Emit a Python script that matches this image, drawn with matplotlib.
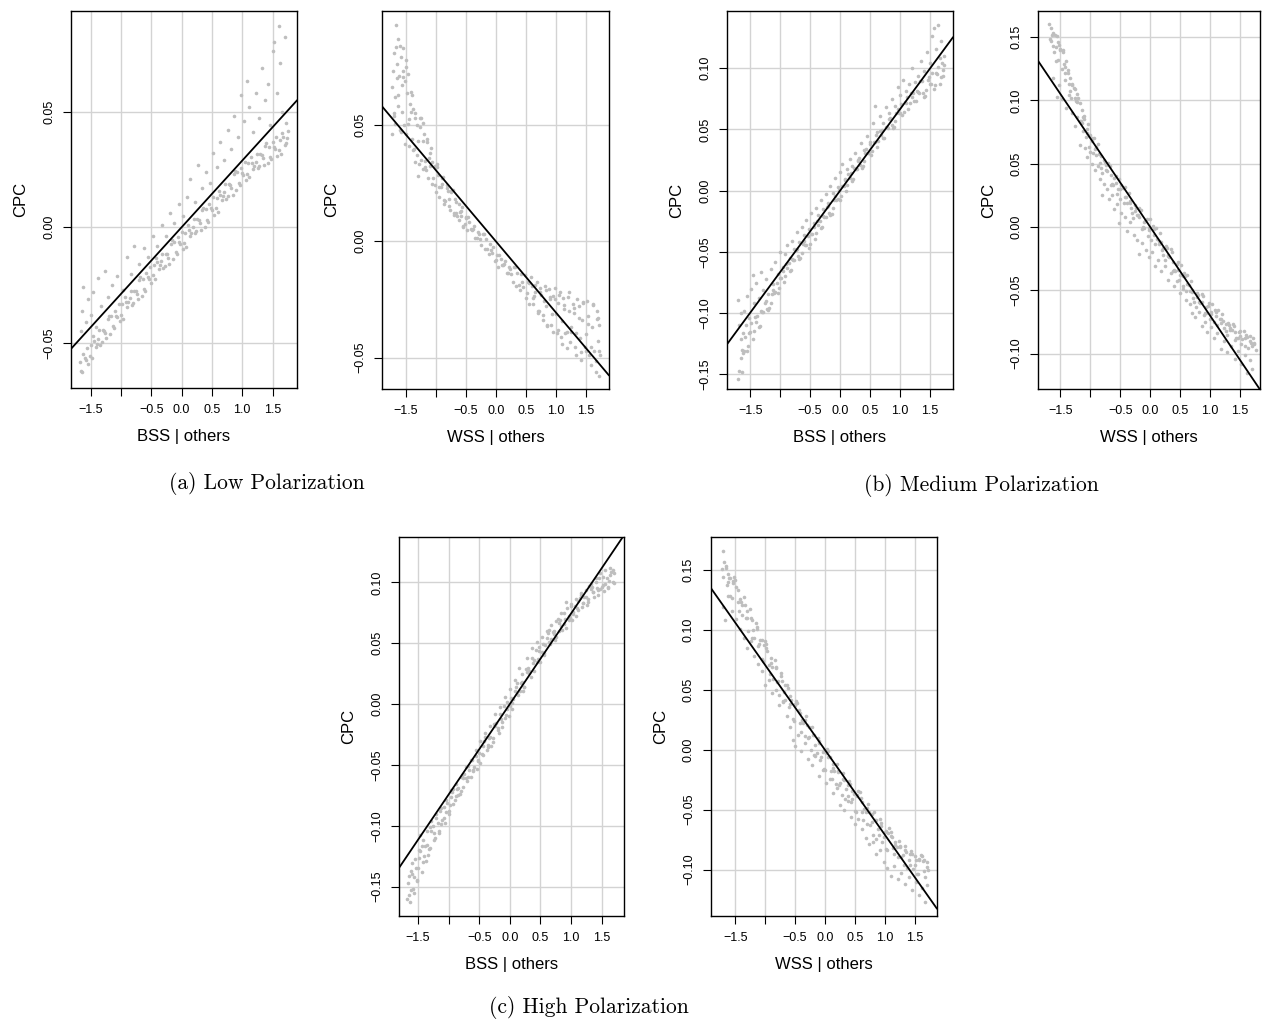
import numpy as np
import matplotlib.pyplot as plt

# partial regression plots, CPC against BSS / WSS (others held fixed)
# points

# (a) low polarization, BSS | others
low_bss = [
    (-1.68, -0.0583), (-1.64, -0.0626), (-1.60, -0.0565), (-1.56, -0.0520), (-1.52, -0.0558), (-1.48, -0.0565),
    (-1.44, -0.0492), (-1.40, -0.0505), (-1.36, -0.0444), (-1.32, -0.0497), (-1.28, -0.0447), (-1.24, -0.0480),
    (-1.20, -0.0385), (-1.16, -0.0383), (-1.12, -0.0436), (-1.08, -0.0385), (-1.04, -0.0330), (-1.00, -0.0378),
    (-0.96, -0.0395), (-0.92, -0.0322), (-0.88, -0.0325), (-0.84, -0.0274), (-0.80, -0.0327), (-0.76, -0.0277),
    (-0.72, -0.0310), (-0.68, -0.0215), (-0.64, -0.0223), (-0.60, -0.0276), (-0.56, -0.0215), (-0.52, -0.0170),
    (-0.48, -0.0208), (-0.44, -0.0225), (-0.40, -0.0152), (-0.36, -0.0165), (-0.32, -0.0114), (-0.28, -0.0167),
    (-0.24, -0.0117), (-0.20, -0.0160), (-0.16, -0.0055), (-0.12, -0.0063), (-0.08, -0.0116), (-0.04, -0.0065),
    (0.00, -0.0020), (0.04, -0.0068), (0.08, -0.0085), (0.12, -0.0012), (0.16, -0.0025), (0.20, 0.0036),
    (0.24, -0.0017), (0.28, 0.0033), (0.32, -0.0010), (0.36, 0.0085), (0.40, 0.0077), (0.44, 0.0024),
    (0.48, 0.0085), (0.52, 0.0130), (0.56, 0.0082), (0.60, 0.0065), (0.64, 0.0138), (0.68, 0.0135),
    (0.72, 0.0186), (0.76, 0.0133), (0.80, 0.0183), (0.84, 0.0140), (0.88, 0.0245), (0.92, 0.0237),
    (0.96, 0.0184), (1.00, 0.0235), (1.04, 0.0280), (1.08, 0.0232), (1.12, 0.0215), (1.16, 0.0278),
    (1.20, 0.0265), (1.24, 0.0316), (1.28, 0.0263), (1.32, 0.0313), (1.36, 0.0270), (1.40, 0.0365),
    (1.44, 0.0347), (1.48, 0.0294), (1.52, 0.0345), (1.56, 0.0390), (1.60, 0.0332), (1.64, 0.0315),
    (1.68, 0.0388), (1.72, 0.0365), (1.76, 0.0416),
    (-1.66, -0.0623), (-1.62, -0.0549), (-1.58, -0.0574), (-1.54, -0.0591), (-1.50, -0.0508), (-1.46, -0.0472),
    (-1.42, -0.0519), (-1.38, -0.0481), (-1.34, -0.0507), (-1.30, -0.0445), (-1.26, -0.0457), (-1.22, -0.0397),
    (-1.18, -0.0463), (-1.14, -0.0428), (-1.10, -0.0364), (-1.06, -0.0389), (-1.02, -0.0406), (-0.98, -0.0333),
    (-0.94, -0.0302), (-0.90, -0.0344), (-0.86, -0.0306), (-0.82, -0.0337), (-0.78, -0.0275), (-0.74, -0.0287),
    (-0.70, -0.0227), (-0.66, -0.0298), (-0.62, -0.0268), (-0.58, -0.0199), (-0.54, -0.0224), (-0.50, -0.0241),
    (-0.46, -0.0163), (-0.42, -0.0132), (-0.38, -0.0179), (-0.34, -0.0146), (-0.30, -0.0177), (-0.26, -0.0115),
    (-0.22, -0.0132), (-0.18, -0.0072), (-0.14, -0.0138), (-0.10, -0.0108), (-0.06, -0.0044), (-0.02, -0.0074),
    (0.02, -0.0096), (0.06, -0.0023), (0.10, 0.0008), (0.14, -0.0039), (0.18, -0.0001), (0.22, -0.0027),
    (0.26, 0.0035), (0.30, 0.0018), (0.34, 0.0073), (0.38, 0.0002), (0.42, 0.0033), (0.46, 0.0102),
    (0.50, 0.0076), (0.54, 0.0055), (0.58, 0.0128), (0.62, 0.0158), (0.66, 0.0117), (0.70, 0.0154),
    (0.74, 0.0124), (0.78, 0.0185), (0.82, 0.0168), (0.86, 0.0228), (0.90, 0.0162), (0.94, 0.0193),
    (0.98, 0.0257), (1.02, 0.0226), (1.06, 0.0205), (1.10, 0.0278), (1.14, 0.0303), (1.18, 0.0252),
    (1.22, 0.0284), (1.26, 0.0254), (1.30, 0.0315), (1.34, 0.0298), (1.38, 0.0353), (1.42, 0.0277),
    (1.46, 0.0303), (1.50, 0.0367), (1.54, 0.0336), (1.58, 0.0310), (1.62, 0.0378), (1.66, 0.0408),
    (1.70, 0.0357), (1.74, 0.0384),
    # sparse upper cloud
    (-1.66, -0.045), (-1.64, -0.036), (-1.62, -0.026), (-1.57, -0.041), (-1.55, -0.031), (-1.50, -0.038),
    (-1.46, -0.028), (-1.41, -0.043), (-1.38, -0.022), (-1.33, -0.034), (-1.27, -0.019), (-1.22, -0.030),
    (-1.15, -0.025), (-1.06, -0.021), (-0.97, -0.027), (-0.90, -0.013), (-0.84, -0.020), (-0.78, -0.008),
    (-0.70, -0.016), (-0.62, -0.009), (-0.55, -0.013), (-0.47, -0.004), (-0.40, -0.008), (-0.33, 0.001),
    (-0.26, -0.004), (-0.19, 0.006), (-0.12, 0.002), (-0.05, 0.010), (0.02, 0.005), (0.09, 0.013),
    (0.14, 0.021), (0.22, 0.011), (0.27, 0.027), (0.33, 0.017), (0.40, 0.024), (0.47, 0.019),
    (0.52, 0.032), (0.58, 0.026), (0.63, 0.037), (0.70, 0.029), (0.76, 0.042), (0.82, 0.034),
    (0.87, 0.048), (0.93, 0.039), (0.98, 0.057), (1.03, 0.046), (1.08, 0.063), (1.12, 0.052),
    (1.18, 0.041), (1.22, 0.058), (1.28, 0.047), (1.33, 0.069), (1.37, 0.055), (1.42, 0.062),
    (1.46, 0.044), (1.50, 0.076), (1.53, 0.080), (1.57, 0.058), (1.60, 0.087), (1.63, 0.071),
    (1.66, 0.050), (1.70, 0.082), (1.73, 0.045),
]

# (a) low polarization, WSS | others
low_wss = [
    (-1.72, 0.0664), (-1.68, 0.0504), (-1.64, 0.0702), (-1.60, 0.0840), (-1.56, 0.0554), (-1.52, 0.0420),
    (-1.48, 0.0638), (-1.44, 0.0524), (-1.40, 0.0630), (-1.36, 0.0396), (-1.32, 0.0499), (-1.28, 0.0332),
    (-1.24, 0.0530), (-1.20, 0.0460), (-1.16, 0.0308), (-1.12, 0.0358), (-1.08, 0.0402), (-1.04, 0.0272),
    (-1.00, 0.0210), (-0.96, 0.0284), (-0.92, 0.0234), (-0.88, 0.0278), (-0.84, 0.0174), (-0.80, 0.0215),
    (-0.76, 0.0135), (-0.72, 0.0220), (-0.68, 0.0180), (-0.64, 0.0108), (-0.60, 0.0124), (-0.56, 0.0146),
    (-0.52, 0.0074), (-0.48, 0.0050), (-0.44, 0.0082), (-0.40, 0.0047), (-0.36, 0.0064), (-0.32, 0.0012),
    (-0.28, 0.0029), (-0.24, -0.0017), (-0.20, 0.0030), (-0.16, 0.0008), (-0.12, -0.0054), (-0.08, -0.0037),
    (-0.04, -0.0023), (0.00, -0.0082), (0.04, -0.0110), (0.08, -0.0078), (0.12, -0.0103), (0.16, -0.0086),
    (0.20, -0.0138), (0.24, -0.0118), (0.28, -0.0176), (0.32, -0.0110), (0.36, -0.0136), (0.40, -0.0210),
    (0.44, -0.0175), (0.48, -0.0145), (0.52, -0.0224), (0.56, -0.0270), (0.60, -0.0192), (0.64, -0.0237),
    (0.68, -0.0176), (0.72, -0.0298), (0.76, -0.0233), (0.80, -0.0256), (0.84, -0.0280), (0.88, -0.0206),
    (0.92, -0.0362), (0.96, -0.0236), (1.00, -0.0314), (1.04, -0.0266), (1.08, -0.0410), (1.12, -0.0244),
    (1.16, -0.0394), (1.20, -0.0238), (1.24, -0.0434), (1.28, -0.0268), (1.32, -0.0456), (1.36, -0.0250),
    (1.40, -0.0416), (1.44, -0.0340), (1.48, -0.0455), (1.52, -0.0255), (1.56, -0.0490), (1.60, -0.0370),
    (1.64, -0.0470), (1.68, -0.0335), (1.72, -0.0470),
    (-1.70, 0.0540), (-1.66, 0.0834), (-1.62, 0.0628), (-1.58, 0.0470), (-1.54, 0.0708), (-1.50, 0.0751),
    (-1.46, 0.0506), (-1.42, 0.0556), (-1.38, 0.0394), (-1.34, 0.0531), (-1.30, 0.0431), (-1.26, 0.0528),
    (-1.22, 0.0310), (-1.18, 0.0343), (-1.14, 0.0425), (-1.10, 0.0324), (-1.06, 0.0248), (-1.02, 0.0325),
    (-0.98, 0.0332), (-0.94, 0.0232), (-0.90, 0.0247), (-0.86, 0.0178), (-0.82, 0.0230), (-0.78, 0.0183),
    (-0.74, 0.0218), (-0.70, 0.0113), (-0.66, 0.0123), (-0.62, 0.0158), (-0.58, 0.0107), (-0.54, 0.0064),
    (-0.50, 0.0103), (-0.46, 0.0104), (-0.42, 0.0051), (-0.38, 0.0051), (-0.34, 0.0014), (-0.30, 0.0039),
    (-0.26, 0.0011), (-0.22, 0.0031), (-0.18, -0.0034), (-0.14, -0.0035), (-0.10, -0.0014), (-0.06, -0.0051),
    (-0.02, -0.0087), (0.02, -0.0060), (0.06, -0.0057), (0.10, -0.0104), (0.14, -0.0099), (0.18, -0.0136),
    (0.22, -0.0109), (0.26, -0.0141), (0.30, -0.0111), (0.34, -0.0193), (0.38, -0.0188), (0.42, -0.0140),
    (0.46, -0.0195), (0.50, -0.0245), (0.54, -0.0175), (0.58, -0.0153), (0.62, -0.0246), (0.66, -0.0220),
    (0.70, -0.0301), (0.74, -0.0217), (0.78, -0.0316), (0.82, -0.0191), (0.86, -0.0363), (0.90, -0.0250),
    (0.94, -0.0312), (0.98, -0.0248), (1.02, -0.0396), (1.06, -0.0230), (1.10, -0.0342), (1.14, -0.0272),
    (1.18, -0.0392), (1.22, -0.0298), (1.26, -0.0392), (1.30, -0.0286), (1.34, -0.0396), (1.38, -0.0328),
    (1.42, -0.0475), (1.46, -0.0265), (1.50, -0.0470), (1.54, -0.0355), (1.58, -0.0455), (1.62, -0.0273),
    (1.66, -0.0515), (1.70, -0.0330),
    (-1.73, 0.046), (-1.71, 0.073), (-1.70, 0.055), (-1.69, 0.081), (-1.67, 0.062), (-1.66, 0.093),
    (-1.65, 0.076), (-1.63, 0.058), (-1.62, 0.087), (-1.61, 0.071), (-1.59, 0.048), (-1.58, 0.079),
    (-1.57, 0.067), (-1.55, 0.083), (-1.54, 0.073), (-1.53, 0.050), (-1.51, 0.069), (-1.50, 0.078),
    (-1.49, 0.046), (-1.46, 0.072), (-1.45, 0.041), (-1.43, 0.059), (-1.42, 0.064), (-1.39, 0.044),
    (-1.38, 0.057), (-1.35, 0.034), (-1.34, 0.055), (-1.31, 0.037), (-1.30, 0.028), (-1.27, 0.049),
    (-1.25, 0.035), (-1.22, 0.051), (-1.21, 0.043), (-1.18, 0.032), (-1.15, 0.044), (-1.13, 0.027),
    (-1.10, 0.038), (-1.06, 0.034), (-1.02, 0.024), (-0.98, 0.032), (-0.94, 0.019), (-0.90, 0.027),
    (-0.86, 0.016), (-0.82, 0.024), (-0.78, 0.015), (-0.74, 0.021), (-0.70, 0.012), (-0.66, 0.017),
    (-0.62, 0.009), (-0.58, 0.013), (-0.54, 0.006), (-0.50, 0.010),
    (0.55, -0.018), (0.62, -0.027), (0.66, -0.019), (0.70, -0.031), (0.74, -0.020), (0.78, -0.034),
    (0.83, -0.021), (0.86, -0.036), (0.90, -0.024), (0.95, -0.039), (0.99, -0.020), (1.03, -0.038),
    (1.07, -0.022), (1.10, -0.044), (1.14, -0.029), (1.18, -0.046), (1.22, -0.022), (1.26, -0.037),
    (1.30, -0.031), (1.34, -0.049), (1.38, -0.028), (1.42, -0.051), (1.46, -0.026), (1.50, -0.040),
    (1.54, -0.032), (1.58, -0.053), (1.62, -0.027), (1.66, -0.056), (1.69, -0.030), (1.70, -0.043),
    (1.71, -0.058), (1.72, -0.036), (1.73, -0.049),
]

# (b) medium polarization, BSS | others
med_bss = [
    (-1.70, -0.1540), (-1.66, -0.1368), (-1.62, -0.1328), (-1.58, -0.1196), (-1.54, -0.1268), (-1.50, -0.1156),
    (-1.46, -0.1212), (-1.42, -0.1030), (-1.38, -0.1022), (-1.34, -0.1104), (-1.30, -0.0994), (-1.26, -0.0916),
    (-1.22, -0.0964), (-1.18, -0.0960), (-1.14, -0.0846), (-1.10, -0.0836), (-1.06, -0.0752), (-1.02, -0.0796),
    (-0.98, -0.0712), (-0.94, -0.0744), (-0.90, -0.0600), (-0.86, -0.0594), (-0.82, -0.0648), (-0.78, -0.0564),
    (-0.74, -0.0486), (-0.70, -0.0534), (-0.66, -0.0550), (-0.62, -0.0436), (-0.58, -0.0446), (-0.54, -0.0372),
    (-0.50, -0.0436), (-0.46, -0.0352), (-0.42, -0.0394), (-0.38, -0.0250), (-0.34, -0.0244), (-0.30, -0.0298),
    (-0.26, -0.0214), (-0.22, -0.0136), (-0.18, -0.0184), (-0.14, -0.0190), (-0.10, -0.0076), (-0.06, -0.0076),
    (-0.02, 0.0008), (0.02, -0.0046), (0.06, 0.0038), (0.10, -0.0004), (0.14, 0.0140), (0.18, 0.0146),
    (0.22, 0.0092), (0.26, 0.0176), (0.30, 0.0254), (0.34, 0.0206), (0.38, 0.0200), (0.42, 0.0304),
    (0.46, 0.0304), (0.50, 0.0378), (0.54, 0.0324), (0.58, 0.0398), (0.62, 0.0356), (0.66, 0.0490),
    (0.70, 0.0496), (0.74, 0.0432), (0.78, 0.0516), (0.82, 0.0584), (0.86, 0.0536), (0.90, 0.0520),
    (0.94, 0.0634), (0.98, 0.0634), (1.02, 0.0708), (1.06, 0.0644), (1.10, 0.0718), (1.14, 0.0666),
    (1.18, 0.0800), (1.22, 0.0796), (1.26, 0.0732), (1.30, 0.0806), (1.34, 0.0892), (1.38, 0.0798),
    (1.42, 0.0770), (1.46, 0.0902), (1.50, 0.0872), (1.54, 0.0964), (1.58, 0.0862), (1.62, 0.0954),
    (1.66, 0.0868), (1.70, 0.1040), (1.74, 0.1028),
    (-1.68, -0.1470), (-1.64, -0.1304), (-1.60, -0.1306), (-1.56, -0.1312), (-1.52, -0.1160), (-1.48, -0.1084),
    (-1.44, -0.1149), (-1.40, -0.1074), (-1.36, -0.1111), (-1.32, -0.0984), (-1.28, -0.0994), (-1.24, -0.0904),
    (-1.20, -0.0977), (-1.16, -0.0915), (-1.12, -0.0808), (-1.08, -0.0827), (-1.04, -0.0834), (-1.00, -0.0715),
    (-0.96, -0.0653), (-0.92, -0.0693), (-0.88, -0.0633), (-0.84, -0.0657), (-0.80, -0.0558), (-0.76, -0.0564),
    (-0.72, -0.0474), (-0.68, -0.0557), (-0.64, -0.0505), (-0.60, -0.0408), (-0.56, -0.0442), (-0.52, -0.0464),
    (-0.48, -0.0355), (-0.44, -0.0298), (-0.40, -0.0343), (-0.36, -0.0283), (-0.32, -0.0307), (-0.28, -0.0208),
    (-0.24, -0.0214), (-0.20, -0.0124), (-0.16, -0.0202), (-0.12, -0.0145), (-0.08, -0.0043), (-0.04, -0.0067),
    (0.00, -0.0079), (0.04, 0.0035), (0.08, 0.0092), (0.12, 0.0047), (0.16, 0.0107), (0.20, 0.0083),
    (0.24, 0.0182), (0.28, 0.0176), (0.32, 0.0266), (0.36, 0.0188), (0.40, 0.0240), (0.44, 0.0337),
    (0.48, 0.0308), (0.52, 0.0291), (0.56, 0.0400), (0.60, 0.0452), (0.64, 0.0402), (0.68, 0.0457),
    (0.72, 0.0428), (0.76, 0.0522), (0.80, 0.0511), (0.84, 0.0596), (0.88, 0.0513), (0.92, 0.0565),
    (0.96, 0.0667), (1.00, 0.0638), (1.04, 0.0616), (1.08, 0.0720), (1.12, 0.0767), (1.16, 0.0712),
    (1.20, 0.0762), (1.24, 0.0728), (1.28, 0.0817), (1.32, 0.0798), (1.36, 0.0893), (1.40, 0.0764),
    (1.44, 0.0820), (1.48, 0.0931), (1.52, 0.0874), (1.56, 0.0833), (1.60, 0.0960), (1.64, 0.1011),
    (1.68, 0.0926), (1.72, 0.0986),
    (-1.70, -0.089), (-1.68, -0.110), (-1.66, -0.100), (-1.65, -0.121), (-1.64, -0.148), (-1.62, -0.116),
    (-1.60, -0.098), (-1.57, -0.110), (-1.55, -0.086), (-1.52, -0.104), (-1.49, -0.080), (-1.46, -0.069),
    (-1.43, -0.092), (-1.40, -0.075), (-1.36, -0.088), (-1.32, -0.066), (-1.28, -0.081), (-1.24, -0.072),
    (-1.20, -0.084), (-1.16, -0.064), (-1.12, -0.076), (-1.08, -0.058), (-1.04, -0.068), (-1.00, -0.050),
    (-0.96, -0.062), (-0.92, -0.052), (-0.88, -0.044), (-0.84, -0.055), (-0.80, -0.041), (-0.76, -0.048),
    (-0.72, -0.034), (-0.68, -0.042), (-0.64, -0.030), (-0.60, -0.036), (-0.56, -0.024), (-0.52, -0.031),
    (-0.48, -0.018), (-0.44, -0.026), (-0.40, -0.014), (-0.36, -0.020), (-0.32, -0.008), (-0.28, -0.015),
    (-0.24, -0.003), (-0.20, -0.010), (-0.16, 0.004), (-0.12, -0.002), (-0.08, 0.010), (-0.04, 0.003),
    (0.00, 0.015), (0.04, 0.022), (0.08, 0.009), (0.12, 0.018), (0.16, 0.026), (0.20, 0.020),
    (0.25, 0.031), (0.30, 0.024), (0.35, 0.039), (0.40, 0.033), (0.45, 0.045), (0.50, 0.040),
    (0.55, 0.055), (0.58, 0.069), (0.62, 0.048), (0.67, 0.061), (0.72, 0.055), (0.77, 0.068),
    (0.82, 0.063), (0.86, 0.075), (0.91, 0.069), (0.96, 0.085), (1.00, 0.078), (1.05, 0.090),
    (1.10, 0.081), (1.15, 0.087), (1.20, 0.100), (1.25, 0.089), (1.30, 0.094), (1.35, 0.106),
    (1.40, 0.098), (1.45, 0.113), (1.50, 0.104), (1.54, 0.126), (1.57, 0.133), (1.60, 0.116),
    (1.63, 0.135), (1.66, 0.108), (1.68, 0.122), (1.71, 0.094), (1.73, 0.110),
]

# (b) medium polarization, WSS | others
med_wss = [
    (-1.68, 0.1482), (-1.64, 0.1514), (-1.60, 0.1379), (-1.56, 0.1510), (-1.52, 0.1440), (-1.48, 0.1250),
    (-1.44, 0.1290), (-1.40, 0.1310), (-1.36, 0.1130), (-1.32, 0.1020), (-1.28, 0.1096), (-1.24, 0.0991),
    (-1.20, 0.1022), (-1.16, 0.0836), (-1.12, 0.0867), (-1.08, 0.0709), (-1.04, 0.0810), (-1.00, 0.0728),
    (-0.96, 0.0586), (-0.92, 0.0618), (-0.88, 0.0652), (-0.84, 0.0508), (-0.80, 0.0430), (-0.76, 0.0512),
    (-0.72, 0.0442), (-0.68, 0.0484), (-0.64, 0.0342), (-0.60, 0.0384), (-0.56, 0.0258), (-0.52, 0.0380),
    (-0.48, 0.0328), (-0.44, 0.0186), (-0.40, 0.0238), (-0.36, 0.0272), (-0.32, 0.0148), (-0.28, 0.0070),
    (-0.24, 0.0152), (-0.20, 0.0092), (-0.16, 0.0134), (-0.12, 0.0002), (-0.08, 0.0044), (-0.04, -0.0072),
    (0.00, 0.0060), (0.04, 0.0008), (0.08, -0.0134), (0.12, -0.0092), (0.16, -0.0048), (0.20, -0.0182),
    (0.24, -0.0260), (0.28, -0.0168), (0.32, -0.0238), (0.36, -0.0196), (0.40, -0.0338), (0.44, -0.0296),
    (0.48, -0.0422), (0.52, -0.0300), (0.56, -0.0362), (0.60, -0.0504), (0.64, -0.0462), (0.68, -0.0428),
    (0.72, -0.0562), (0.76, -0.0630), (0.80, -0.0538), (0.84, -0.0598), (0.88, -0.0546), (0.92, -0.0678),
    (0.96, -0.0626), (1.00, -0.0723), (1.04, -0.0610), (1.08, -0.0658), (1.12, -0.0776), (1.16, -0.0723),
    (1.20, -0.0687), (1.24, -0.0798), (1.28, -0.0850), (1.32, -0.0772), (1.36, -0.0817), (1.40, -0.0782),
    (1.44, -0.0876), (1.48, -0.0832), (1.52, -0.0924), (1.56, -0.0820), (1.60, -0.0854), (1.64, -0.0958),
    (1.68, -0.0914), (1.72, -0.0876), (1.76, -0.0974),
    (-1.66, 0.1470), (-1.62, 0.1535), (-1.58, 0.1422), (-1.54, 0.1315), (-1.50, 0.1405), (-1.46, 0.1400),
    (-1.42, 0.1220), (-1.38, 0.1215), (-1.34, 0.1074), (-1.30, 0.1126), (-1.26, 0.1016), (-1.22, 0.1052),
    (-1.18, 0.0835), (-1.14, 0.0820), (-1.10, 0.0878), (-1.06, 0.0743), (-1.02, 0.0633), (-0.98, 0.0705),
    (-0.94, 0.0706), (-0.90, 0.0571), (-0.86, 0.0576), (-0.82, 0.0469), (-0.78, 0.0531), (-0.74, 0.0453),
    (-0.70, 0.0503), (-0.66, 0.0329), (-0.62, 0.0335), (-0.58, 0.0401), (-0.54, 0.0299), (-0.50, 0.0218),
    (-0.46, 0.0305), (-0.42, 0.0316), (-0.38, 0.0191), (-0.34, 0.0206), (-0.30, 0.0109), (-0.26, 0.0171),
    (-0.22, 0.0098), (-0.18, 0.0153), (-0.14, -0.0016), (-0.10, -0.0005), (-0.06, 0.0066), (-0.02, -0.0026),
    (0.02, -0.0102), (0.06, -0.0015), (0.10, -0.0009), (0.14, -0.0134), (0.18, -0.0119), (0.22, -0.0221),
    (0.26, -0.0154), (0.30, -0.0227), (0.34, -0.0177), (0.38, -0.0351), (0.42, -0.0345), (0.46, -0.0279),
    (0.50, -0.0381), (0.54, -0.0467), (0.58, -0.0385), (0.62, -0.0379), (0.66, -0.0509), (0.70, -0.0499),
    (0.74, -0.0596), (0.78, -0.0524), (0.82, -0.0592), (0.86, -0.0532), (0.90, -0.0696), (0.94, -0.0680),
    (0.98, -0.0603), (1.02, -0.0684), (1.06, -0.0753), (1.10, -0.0675), (1.14, -0.0659), (1.18, -0.0761),
    (1.22, -0.0746), (1.26, -0.0824), (1.30, -0.0759), (1.34, -0.0816), (1.38, -0.0765), (1.42, -0.0892),
    (1.46, -0.0875), (1.50, -0.0818), (1.54, -0.0887), (1.58, -0.0939), (1.62, -0.0870), (1.66, -0.0858),
    (1.70, -0.0943), (1.74, -0.0928),
    (-1.62, 0.118), (-1.58, 0.131), (-1.55, 0.103), (-1.52, 0.112), (-1.47, 0.101), (-1.43, 0.116),
    (-1.40, 0.094), (-1.35, 0.104), (-1.30, 0.090), (-1.26, 0.080), (-1.22, 0.087), (-1.18, 0.065),
    (-1.13, 0.076), (-1.09, 0.062), (-1.05, 0.055), (-1.01, 0.059), (-0.97, 0.050), (-0.93, 0.045),
    (-0.88, 0.048), (-0.84, 0.038), (-0.80, 0.025), (-0.78, 0.034), (-0.73, 0.030), (-0.69, 0.022),
    (-0.64, 0.025), (-0.60, 0.014), (-0.55, 0.018), (-0.52, 0.003), (-0.48, 0.011), (-0.42, 0.008),
    (-0.38, -0.003), (-0.34, 0.004), (-0.27, -0.006), (-0.22, -0.010), (-0.18, -0.021), (-0.13, -0.013),
    (-0.07, -0.018), (-0.02, -0.024), (0.03, -0.020), (0.08, -0.031), (0.13, -0.026), (0.18, -0.035),
    (0.24, -0.031), (0.29, -0.042), (0.34, -0.036), (0.39, -0.047), (0.44, -0.043), (0.49, -0.052),
    (0.55, -0.049), (0.60, -0.058), (0.66, -0.061), (0.70, -0.068), (0.75, -0.071), (0.81, -0.067),
    (0.86, -0.078), (0.91, -0.075), (0.95, -0.083), (1.01, -0.079), (1.06, -0.088), (1.12, -0.084),
    (1.18, -0.096), (1.23, -0.090), (1.29, -0.099), (1.35, -0.094), (1.41, -0.104), (1.47, -0.098),
    (1.52, -0.108), (1.58, -0.101), (1.62, -0.115), (1.66, -0.105), (1.70, -0.112),
    (-1.69, 0.160), (-1.66, 0.157), (-1.63, 0.143), (-1.59, 0.152), (-1.54, 0.146), (-1.50, 0.140),
    (-1.46, 0.138), (-1.42, 0.126), (-1.38, 0.124), (-1.34, 0.118), (-1.30, 0.112), (-1.26, 0.109),
    (-1.22, 0.099), (-1.18, 0.098), (-1.14, 0.092), (-1.10, 0.085), (-1.06, 0.077), (-1.02, 0.072),
    (-0.98, 0.068), (-0.90, 0.063), (-0.82, 0.056), (-0.74, 0.049), (-0.66, 0.041), (-0.58, 0.035),
    (-0.50, 0.030), (-0.42, 0.024), (-0.34, 0.019), (-0.26, 0.013), (-0.18, 0.008), (-0.10, 0.004),
    (-0.02, -0.001), (0.06, -0.006), (0.14, -0.011), (0.22, -0.017), (0.30, -0.022), (0.38, -0.028),
    (0.46, -0.034), (0.54, -0.039), (0.62, -0.045), (0.70, -0.051), (0.78, -0.055), (0.86, -0.059),
    (0.94, -0.063), (1.02, -0.067), (1.10, -0.070), (1.18, -0.073), (1.26, -0.077), (1.34, -0.080),
    (1.42, -0.083), (1.50, -0.086), (1.58, -0.088), (1.66, -0.090), (1.73, -0.092),
]

# (c) high polarization, BSS | others
high_bss = [
    (-1.66, -0.1469), (-1.62, -0.1526), (-1.58, -0.1520), (-1.54, -0.1344), (-1.50, -0.1350), (-1.46, -0.1210),
    (-1.42, -0.1300), (-1.38, -0.1170), (-1.34, -0.1240), (-1.30, -0.1010), (-1.26, -0.1006), (-1.22, -0.1102),
    (-1.18, -0.0981), (-1.14, -0.0879), (-1.10, -0.0956), (-1.06, -0.0980), (-1.02, -0.0814), (-0.98, -0.0827),
    (-0.94, -0.0724), (-0.90, -0.0792), (-0.86, -0.0699), (-0.82, -0.0743), (-0.78, -0.0580), (-0.74, -0.0578),
    (-0.70, -0.0636), (-0.66, -0.0543), (-0.62, -0.0457), (-0.58, -0.0518), (-0.54, -0.0530), (-0.50, -0.0398),
    (-0.46, -0.0408), (-0.42, -0.0306), (-0.38, -0.0378), (-0.34, -0.0276), (-0.30, -0.0342), (-0.26, -0.0160),
    (-0.22, -0.0152), (-0.18, -0.0234), (-0.14, -0.0122), (-0.10, -0.0018), (-0.06, -0.0092), (-0.02, -0.0100),
    (0.02, 0.0052), (0.06, 0.0042), (0.10, 0.0144), (0.14, 0.0072), (0.18, 0.0174), (0.22, 0.0108),
    (0.26, 0.0290), (0.30, 0.0298), (0.34, 0.0226), (0.38, 0.0338), (0.42, 0.0442), (0.46, 0.0368),
    (0.50, 0.0350), (0.54, 0.0492), (0.58, 0.0482), (0.62, 0.0584), (0.66, 0.0492), (0.70, 0.0594),
    (0.74, 0.0528), (0.78, 0.0700), (0.82, 0.0688), (0.86, 0.0606), (0.90, 0.0698), (0.94, 0.0792),
    (0.98, 0.0708), (1.02, 0.0690), (1.06, 0.0808), (1.10, 0.0793), (1.14, 0.0876), (1.18, 0.0798),
    (1.22, 0.0881), (1.26, 0.0817), (1.30, 0.0970), (1.34, 0.0962), (1.38, 0.0884), (1.42, 0.0957),
    (1.46, 0.1033), (1.50, 0.0962), (1.54, 0.0930), (1.58, 0.1038), (1.62, 0.1013), (1.66, 0.1086),
    (1.70, 0.0998),
    (-1.64, -0.1565), (-1.60, -0.1397), (-1.56, -0.1423), (-1.52, -0.1446), (-1.48, -0.1265), (-1.44, -0.1170),
    (-1.40, -0.1250), (-1.36, -0.1155), (-1.32, -0.1192), (-1.28, -0.1040), (-1.24, -0.1059), (-1.20, -0.0934),
    (-1.16, -0.1061), (-1.12, -0.0985), (-1.08, -0.0842), (-1.04, -0.0886), (-1.00, -0.0903), (-0.96, -0.0765),
    (-0.92, -0.0699), (-0.88, -0.0756), (-0.84, -0.0686), (-0.80, -0.0714), (-0.76, -0.0604), (-0.72, -0.0611),
    (-0.68, -0.0506), (-0.64, -0.0602), (-0.60, -0.0540), (-0.56, -0.0426), (-0.52, -0.0461), (-0.48, -0.0487),
    (-0.44, -0.0345), (-0.40, -0.0274), (-0.36, -0.0339), (-0.32, -0.0269), (-0.28, -0.0311), (-0.24, -0.0184),
    (-0.20, -0.0197), (-0.16, -0.0082), (-0.12, -0.0186), (-0.08, -0.0115), (-0.04, 0.0016), (0.00, -0.0016),
    (0.04, -0.0037), (0.08, 0.0105), (0.12, 0.0176), (0.16, 0.0111), (0.20, 0.0181), (0.24, 0.0139),
    (0.28, 0.0266), (0.32, 0.0258), (0.36, 0.0378), (0.40, 0.0274), (0.44, 0.0345), (0.48, 0.0471),
    (0.52, 0.0429), (0.56, 0.0403), (0.60, 0.0545), (0.64, 0.0606), (0.68, 0.0531), (0.72, 0.0601),
    (0.76, 0.0554), (0.80, 0.0666), (0.84, 0.0643), (0.88, 0.0748), (0.92, 0.0629), (0.96, 0.0690),
    (1.00, 0.0803), (1.04, 0.0756), (1.08, 0.0727), (1.12, 0.0845), (1.16, 0.0897), (1.20, 0.0829),
    (1.24, 0.0884), (1.28, 0.0841), (1.32, 0.0942), (1.36, 0.0920), (1.40, 0.1005), (1.44, 0.0894),
    (1.48, 0.0945), (1.52, 0.1044), (1.56, 0.0991), (1.60, 0.0952), (1.64, 0.1060), (1.68, 0.1102),
    (-1.68, -0.160), (-1.65, -0.141), (-1.63, -0.163), (-1.61, -0.137), (-1.60, -0.131), (-1.57, -0.155),
    (-1.55, -0.127), (-1.52, -0.145), (-1.49, -0.120), (-1.47, -0.108), (-1.44, -0.138), (-1.41, -0.112),
    (-1.37, -0.129), (-1.35, -0.104), (-1.31, -0.118), (-1.28, -0.096), (-1.24, -0.112), (-1.20, -0.090),
    (-1.16, -0.104), (-1.12, -0.085), (-1.08, -0.094), (-1.04, -0.079), (-1.00, -0.088), (-0.96, -0.071),
    (-0.92, -0.082), (-0.88, -0.066), (-0.84, -0.075), (-0.80, -0.060), (-0.76, -0.068), (-0.72, -0.052),
    (-0.68, -0.060), (-0.64, -0.046), (-0.60, -0.055), (-0.56, -0.038), (-0.52, -0.047), (-0.48, -0.030),
    (-0.44, -0.042), (-0.40, -0.024), (-0.36, -0.035), (-0.32, -0.018), (-0.28, -0.028), (-0.24, -0.008),
    (-0.20, -0.021), (-0.16, -0.002), (-0.12, -0.015), (-0.08, 0.006), (-0.04, -0.004), (0.00, 0.012),
    (0.04, 0.001), (0.08, 0.020), (0.12, 0.008), (0.15, 0.030), (0.20, 0.025), (0.24, 0.014),
    (0.28, 0.038), (0.32, 0.027), (0.36, 0.046), (0.40, 0.036), (0.44, 0.051), (0.48, 0.044),
    (0.52, 0.055), (0.56, 0.042), (0.60, 0.060), (0.64, 0.051), (0.68, 0.065), (0.72, 0.058),
    (0.76, 0.068), (0.80, 0.060), (0.84, 0.075), (0.88, 0.066), (0.92, 0.084), (0.96, 0.072),
    (1.00, 0.082), (1.04, 0.074), (1.08, 0.086), (1.12, 0.077), (1.16, 0.091), (1.20, 0.083),
    (1.24, 0.094), (1.28, 0.086), (1.32, 0.099), (1.36, 0.092), (1.40, 0.104), (1.44, 0.094),
    (1.48, 0.108), (1.52, 0.098), (1.56, 0.110), (1.60, 0.096), (1.64, 0.112), (1.68, 0.100),
    (1.70, 0.108),
]

# (c) high polarization, WSS | others
high_wss = [
    (-1.72, 0.1509), (-1.68, 0.1568), (-1.64, 0.1374), (-1.60, 0.1433), (-1.56, 0.1271), (-1.52, 0.1440),
    (-1.48, 0.1356), (-1.44, 0.1162), (-1.40, 0.1231), (-1.36, 0.1279), (-1.32, 0.1096), (-1.28, 0.0990),
    (-1.24, 0.1104), (-1.20, 0.0999), (-1.16, 0.1058), (-1.12, 0.0864), (-1.08, 0.0913), (-1.04, 0.0741),
    (-1.00, 0.0910), (-0.96, 0.0826), (-0.92, 0.0632), (-0.88, 0.0691), (-0.84, 0.0749), (-0.80, 0.0566),
    (-0.76, 0.0460), (-0.72, 0.0574), (-0.68, 0.0479), (-0.64, 0.0538), (-0.60, 0.0354), (-0.56, 0.0413),
    (-0.52, 0.0241), (-0.48, 0.0410), (-0.44, 0.0336), (-0.40, 0.0152), (-0.36, 0.0221), (-0.32, 0.0279),
    (-0.28, 0.0096), (-0.24, 0.0000), (-0.20, 0.0124), (-0.16, 0.0039), (-0.12, 0.0098), (-0.08, -0.0086),
    (-0.04, -0.0017), (0.00, -0.0169), (0.04, 0.0010), (0.08, -0.0064), (0.12, -0.0248), (0.16, -0.0179),
    (0.20, -0.0121), (0.24, -0.0294), (0.28, -0.0380), (0.32, -0.0256), (0.36, -0.0331), (0.40, -0.0262),
    (0.44, -0.0436), (0.48, -0.0367), (0.52, -0.0519), (0.56, -0.0340), (0.60, -0.0404), (0.64, -0.0588),
    (0.68, -0.0519), (0.72, -0.0451), (0.76, -0.0624), (0.80, -0.0710), (0.84, -0.0586), (0.88, -0.0661),
    (0.92, -0.0582), (0.96, -0.0766), (1.00, -0.0687), (1.04, -0.0839), (1.08, -0.0650), (1.12, -0.0726),
    (1.16, -0.0872), (1.20, -0.0811), (1.24, -0.0759), (1.28, -0.0896), (1.32, -0.0960), (1.36, -0.0854),
    (1.40, -0.0919), (1.44, -0.0848), (1.48, -0.0994), (1.52, -0.0923), (1.56, -0.1041), (1.60, -0.0880),
    (1.64, -0.0926), (1.68, -0.1062), (1.72, -0.1001),
    (-1.70, 0.1445), (-1.66, 0.1537), (-1.62, 0.1398), (-1.58, 0.1286), (-1.54, 0.1405), (-1.50, 0.1415),
    (-1.46, 0.1237), (-1.42, 0.1257), (-1.38, 0.1123), (-1.34, 0.1210), (-1.30, 0.1104), (-1.26, 0.1174),
    (-1.22, 0.0931), (-1.18, 0.0935), (-1.14, 0.1027), (-1.10, 0.0883), (-1.06, 0.0761), (-1.02, 0.0875),
    (-0.98, 0.0885), (-0.94, 0.0707), (-0.90, 0.0722), (-0.86, 0.0588), (-0.82, 0.0680), (-0.78, 0.0574),
    (-0.74, 0.0644), (-0.70, 0.0406), (-0.66, 0.0415), (-0.62, 0.0512), (-0.58, 0.0378), (-0.54, 0.0261),
    (-0.50, 0.0375), (-0.46, 0.0390), (-0.42, 0.0222), (-0.38, 0.0247), (-0.34, 0.0118), (-0.30, 0.0210),
    (-0.26, 0.0109), (-0.22, 0.0189), (-0.18, -0.0040), (-0.14, -0.0025), (-0.10, 0.0072), (-0.06, -0.0057),
    (-0.02, -0.0159), (0.02, -0.0030), (0.06, -0.0011), (0.10, -0.0178), (0.14, -0.0153), (0.18, -0.0282),
    (0.22, -0.0186), (0.26, -0.0277), (0.30, -0.0192), (0.34, -0.0415), (0.38, -0.0390), (0.42, -0.0283),
    (0.46, -0.0407), (0.50, -0.0509), (0.54, -0.0380), (0.58, -0.0356), (0.62, -0.0518), (0.66, -0.0493),
    (0.70, -0.0617), (0.74, -0.0516), (0.78, -0.0607), (0.82, -0.0522), (0.86, -0.0745), (0.90, -0.0715),
    (0.94, -0.0608), (0.98, -0.0732), (1.02, -0.0829), (1.06, -0.0695), (1.10, -0.0685), (1.14, -0.0817),
    (1.18, -0.0792), (1.22, -0.0893), (1.26, -0.0810), (1.30, -0.0879), (1.34, -0.0804), (1.38, -0.0986),
    (1.42, -0.0960), (1.46, -0.0867), (1.50, -0.0963), (1.54, -0.1036), (1.58, -0.0920), (1.62, -0.0890),
    (1.66, -0.1012), (1.70, -0.0982),
    (-1.70, 0.166), (-1.66, 0.152), (-1.62, 0.147), (-1.58, 0.143), (-1.54, 0.139), (-1.46, 0.133),
    (-1.38, 0.121), (-1.30, 0.116), (-1.22, 0.108), (-1.14, 0.101), (-1.06, 0.092), (-0.98, 0.085),
    (-0.90, 0.077), (-0.82, 0.069), (-0.74, 0.062), (-0.66, 0.054), (-0.58, 0.045), (-0.50, 0.038),
    (-0.42, 0.031), (-0.34, 0.025), (-0.26, 0.019), (-0.18, 0.012), (-0.10, 0.006), (-0.02, 0.000),
    (0.06, -0.006), (0.14, -0.012), (0.22, -0.018), (0.30, -0.024), (0.38, -0.029), (0.46, -0.034),
    (0.54, -0.039), (0.62, -0.044), (0.70, -0.049), (0.78, -0.054), (0.86, -0.059), (0.94, -0.064),
    (1.02, -0.068), (1.10, -0.072), (1.18, -0.077), (1.26, -0.080), (1.34, -0.084), (1.42, -0.087),
    (1.50, -0.089), (1.58, -0.091), (1.66, -0.092), (1.71, -0.094),
    (-1.70, 0.119), (-1.67, 0.108), (-1.62, 0.128), (-1.55, 0.116), (-1.49, 0.109), (-1.42, 0.101),
    (-1.36, 0.093), (-1.30, 0.085), (-1.24, 0.091), (-1.18, 0.078), (-1.12, 0.072), (-1.06, 0.066),
    (-1.00, 0.054), (-0.94, 0.058), (-0.88, 0.047), (-0.82, 0.050), (-0.76, 0.037), (-0.70, 0.040),
    (-0.64, 0.028), (-0.58, 0.019), (-0.54, 0.008), (-0.50, 0.003), (-0.45, 0.012), (-0.40, -0.001),
    (-0.34, 0.006), (-0.28, -0.008), (-0.22, -0.013), (-0.16, -0.005), (-0.10, -0.022), (-0.04, -0.017),
    (0.02, -0.028), (0.08, -0.024), (0.14, -0.036), (0.20, -0.032), (0.26, -0.046), (0.32, -0.050),
    (0.38, -0.043), (0.44, -0.056), (0.50, -0.062), (0.56, -0.058), (0.62, -0.066), (0.68, -0.074),
    (0.74, -0.079), (0.80, -0.077), (0.86, -0.087), (0.92, -0.084), (0.98, -0.094), (1.04, -0.099),
    (1.10, -0.105), (1.16, -0.097), (1.22, -0.108), (1.28, -0.103), (1.34, -0.112), (1.40, -0.106),
    (1.46, -0.117), (1.52, -0.110), (1.58, -0.121), (1.63, -0.115), (1.67, -0.127), (1.70, -0.113),
]

# fitted slopes (lines pass through the origin)
slopes = [0.0288, -0.0306, 0.0665, -0.0700, 0.0744, -0.0708]
x_labels = ["BSS | others", "WSS | others"] * 3
x_ticks = [-1.5, -1.0, -0.5, 0.0, 0.5, 1.0, 1.5]
x_tick_labels = ["\u22121.5", "", "\u22120.5", "0.0", "0.5", "1.0", "1.5"]
y_ticks = [
    [-0.05, 0.0, 0.05],
    [-0.05, 0.0, 0.05],
    [-0.15, -0.10, -0.05, 0.0, 0.05, 0.10],
    [-0.10, -0.05, 0.0, 0.05, 0.10, 0.15],
    [-0.15, -0.10, -0.05, 0.0, 0.05, 0.10],
    [-0.10, -0.05, 0.0, 0.05, 0.10, 0.15],
]
captions = ["(a) Low Polarization", "(b) Medium Polarization", "(c) High Polarization"]

data = [low_bss, low_wss, med_bss, med_wss, high_bss, high_wss]

# layout (figure fractions) and axis ranges
rects = [
    [0.0559, 0.6212, 0.1787, 0.3684],
    [0.3022, 0.6205, 0.1790, 0.3691],
    [0.5745, 0.6205, 0.1787, 0.3688],
    [0.8208, 0.6202, 0.1755, 0.3691],
    [0.3154, 0.1063, 0.1781, 0.3700],
    [0.5618, 0.1063, 0.1787, 0.3700],
]
xlims = [(-1.83, 1.90), (-1.89, 1.88), (-1.89, 1.88), (-1.87, 1.84), (-1.81, 1.87), (-1.91, 1.87)]
ylims = [(-0.0696, 0.0936), (-0.0635, 0.0991), (-0.1619, 0.1467),
         (-0.1282, 0.1706), (-0.1742, 0.1375), (-0.1388, 0.1778)]
caption_pos = [(0.2108, 0.5285), (0.7755, 0.5265), (0.4656, 0.0166)]

plt.rcParams['font.family'] = ['Liberation Sans', 'DejaVu Sans']

fig = plt.figure(figsize=(12.65, 10.25), dpi=100)

for k in range(6):
    ax = fig.add_axes(rects[k])
    pts = np.array(data[k])
    ax.plot(pts[:, 0], pts[:, 1], 'o', ms=2.6, color='#BEBEBE', mec='none', zorder=2)
    ax.axline((0, 0), slope=slopes[k], color='black', lw=1.3, zorder=3)

    ax.set_xlim(*xlims[k])
    ax.set_ylim(*ylims[k])
    ax.set_xticks(x_ticks)
    ax.set_xticklabels(x_tick_labels)
    ax.set_yticks(y_ticks[k])
    ax.set_yticklabels([f"{v:.2f}".replace("-", "\u2212") for v in y_ticks[k]],
                       rotation=90, va='center')
    ax.grid(True, color='#D3D3D3', lw=1.0, zorder=1)
    ax.set_axisbelow(True)
    ax.tick_params(direction='out', length=5.8, width=0.8, pad=5.5, labelsize=9, colors='black')
    for sp in ax.spines.values():
        sp.set_linewidth(1.0)

    ax.set_xlabel(x_labels[k], fontsize=12)
    ax.set_ylabel("CPC", fontsize=12)
    ax.xaxis.set_label_coords(0.5, -0.108)
    ax.yaxis.set_label_coords(-0.19, 0.5)

for txt, (cx, cy) in zip(captions, caption_pos):
    fig.text(cx, cy, txt, family=['cmr10', 'DejaVu Serif'], fontsize=15.5, ha='center', va='center')

fig.savefig("out.png", dpi=100)
